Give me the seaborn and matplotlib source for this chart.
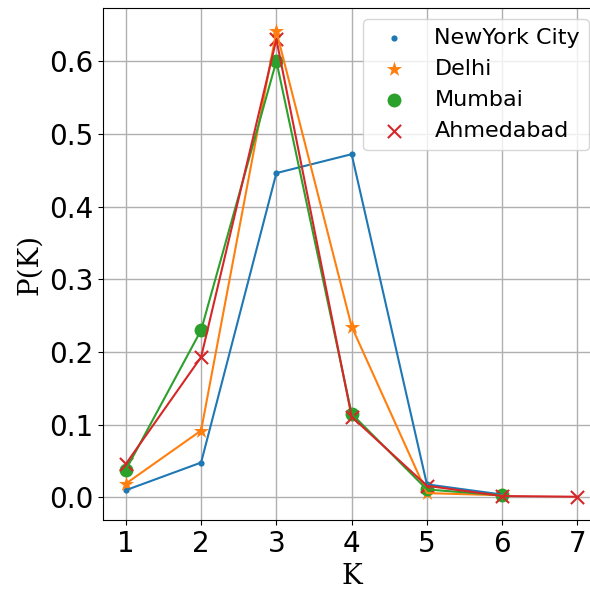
import matplotlib
matplotlib.use("Agg")
import matplotlib.pyplot as plt
import seaborn as sns
import pandas as pd

nyc_k = [1, 2, 3, 4, 5, 6]
nyc_p = [0.010, 0.048, 0.446, 0.472, 0.018, 0.004]
delhi_k = [1, 2, 3, 4, 5, 6]
delhi_p = [0.019, 0.092, 0.641, 0.235, 0.006, 0.003]
mumbai_k = [1, 2, 3, 4, 5, 6]
mumbai_p = [0.038, 0.230, 0.600, 0.115, 0.011, 0.003]
ahm_k = [1, 2, 3, 4, 5, 6, 7]
ahm_p = [0.046, 0.193, 0.630, 0.111, 0.016, 0.002, 0.001]

series = [
    ("NewYork City", nyc_k, nyc_p, "#1f77b4", "o", 20),
    ("Delhi", delhi_k, delhi_p, "#ff7f0e", "*", 130),
    ("Mumbai", mumbai_k, mumbai_p, "#2ca02c", "o", 100),
    ("Ahmedabad", ahm_k, ahm_p, "#d62728", "x", 90),
]

fig, ax = plt.subplots(figsize=(5.9, 5.92), dpi=100)
for name, k, p, c, m, s in series:
    df = pd.DataFrame({"K": k, "P": p})
    sns.lineplot(data=df, x="K", y="P", color=c, ax=ax, linewidth=1.5)
    sns.scatterplot(data=df, x="K", y="P", color=c, marker=m, s=s, ax=ax,
                    label=name, linewidth=1.5 if m == "x" else 0,
                    edgecolor=None if m == "x" else c)

ax.grid(True, color="#b0b0b0", linewidth=1)
ax.set_axisbelow(True)
ax.set_xticks([1, 2, 3, 4, 5, 6, 7])
ax.set_yticks([0.0, 0.1, 0.2, 0.3, 0.4, 0.5, 0.6])
ax.tick_params(labelsize=20)
ax.set_xlabel("K", fontsize=20, family="DejaVu Serif")
ax.set_ylabel("P(K)", fontsize=20, family="DejaVu Serif")
ax.legend(fontsize=16, loc="upper right", labelspacing=0.5)
fig.subplots_adjust(left=0.175, right=1.017, top=0.9865, bottom=0.1216)
fig.savefig("out.png")
